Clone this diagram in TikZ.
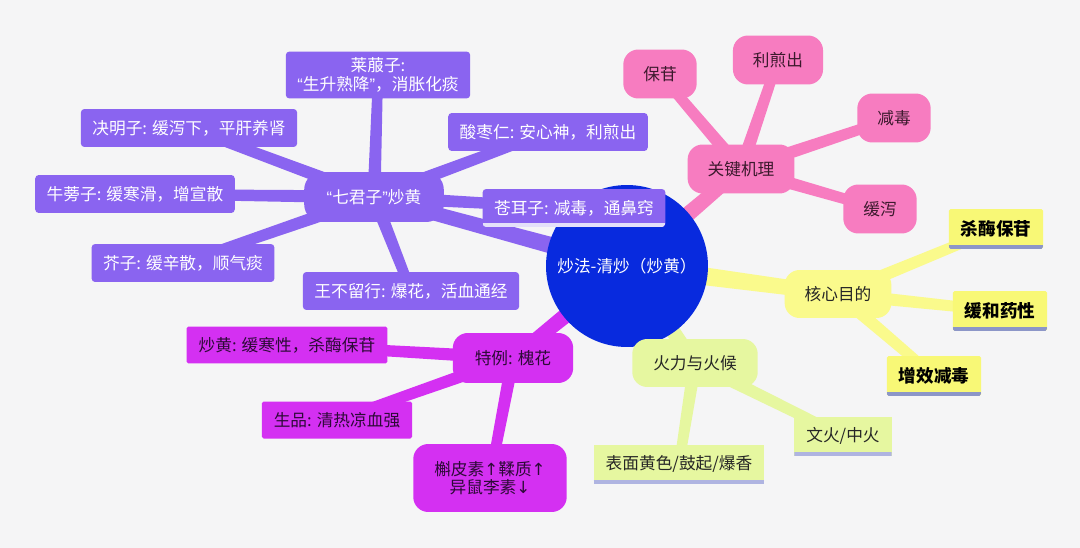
\documentclass[tikz,border=0pt]{standalone}
\usepackage{fontspec}
\setmainfont{Noto Sans CJK SC}
\newfontfamily\quotefont{Liberation Sans}
\newfontfamily\arrowfont{DejaVu Sans}
\usepackage{xcolor}
\usepackage{tikz}
\usetikzlibrary{calc, backgrounds}
\definecolor{bgc}{RGB}{245,245,246}
\definecolor{rootblue}{RGB}{8,42,222}
\definecolor{purp}{RGB}{138,100,240}
\definecolor{pinkc}{RGB}{247,124,192}
\definecolor{pinktxt}{RGB}{60,25,45}
\definecolor{yelhub}{RGB}{250,250,140}
\definecolor{yel}{RGB}{248,248,118}
\definecolor{ylineblue}{RGB}{140,150,200}
\definecolor{lime}{RGB}{230,247,160}
\definecolor{glineblue}{RGB}{175,180,225}
\definecolor{lavline}{RGB}{228,224,250}
\definecolor{mag}{RGB}{212,48,242}
\definecolor{magtxt}{RGB}{45,10,55}
\newcommand{\oquote}{{\quotefont “}}
\newcommand{\cquote}{{\quotefont ”}}
\newcommand{\arrup}{{\arrowfont ↑}}
\newcommand{\arrdown}{{\arrowfont ↓}}
\tikzset{uline/.style={path picture={\draw[line width=4pt,#1] (path picture bounding box.south west) -- (path picture bounding box.south east);}}}
\tikzstyle{root}   = [circle, fill=rootblue, text=white, minimum size=3.24cm, inner sep=0pt]
\tikzstyle{phub}   = [rectangle, rounded corners=0.35cm, fill=purp, text=white, minimum height=1cm, inner xsep=0.45cm]
\tikzstyle{pchild} = [rectangle, rounded corners=2pt, fill=purp, text=white, minimum height=0.76cm, inner xsep=0.23cm, align=center]
\tikzstyle{pinkbox}= [rectangle, rounded corners=0.3cm, fill=pinkc, text=pinktxt, minimum height=0.98cm, inner xsep=0.4cm]
\tikzstyle{yhub}   = [rectangle, rounded corners=0.3cm, fill=yelhub, text=black!85, minimum height=0.96cm, inner xsep=0.4cm]
\tikzstyle{ychild} = [rectangle, rounded corners=1pt, fill=yel, font=\bfseries, minimum height=0.8cm, inner xsep=0.24cm, uline=ylineblue]
\tikzstyle{ghub}   = [rectangle, rounded corners=0.3cm, fill=lime, text=black!85, minimum height=0.96cm, inner xsep=0.42cm]
\tikzstyle{gchild} = [rectangle, fill=lime, text=black!85, minimum height=0.78cm, inner xsep=0.24cm, uline=glineblue]
\tikzstyle{mhub}   = [rectangle, rounded corners=0.3cm, fill=mag, text=magtxt, minimum height=1cm, inner xsep=0.44cm, align=center]
\tikzstyle{mchild} = [rectangle, rounded corners=1pt, fill=mag, text=magtxt, minimum height=0.74cm, inner xsep=0.24cm]
% tapered branch: colour, from, to, half width at start, half width at end
\newcommand{\branch}[5]{\fill[#1] ($(#2)!#4!90:(#3)$) -- ($(#3)!#5!-90:(#2)$) -- ($(#3)!#5!90:(#2)$) -- ($(#2)!#4!-90:(#3)$) -- cycle;}

\begin{document}
\begin{tikzpicture}[x=0.02cm, y=-0.02cm, font=\fontsize{9.5}{11}\selectfont]
\node (center) [root] at (627,266) {炒法-清炒（炒黄）};

% purple branch
\node (seven) [phub] at (374,197) {\oquote 七君子\cquote 炒黄};
\node (laifu) [pchild] at (378,75) {莱菔子:\\\oquote 生升熟降\cquote ，消胀化痰};
\node (jueming) [pchild] at (189,128) {决明子: 缓泻下，平肝养肾};
\node (suanzao) [pchild] at (548,132) {酸枣仁: 安心神，利煎出};
\node (niubang) [pchild] at (135,194) {牛蒡子: 缓寒滑，增宣散};
\node (canger) [pchild, uline=lavline] at (574,208) {苍耳子: 减毒，通鼻窍};
\node (jiezi) [pchild] at (183,263) {芥子: 缓辛散，顺气痰};
\node (wangbu) [pchild] at (411,291) {王不留行: 爆花，活血通经};

% pink branch
\node (mech) [pinkbox] at (741,169) {关键机理};
\node (baogan) [pinkbox] at (660,74) {保苷};
\node (lijian) [pinkbox] at (778,60) {利煎出};
\node (jiandu) [pinkbox] at (894,118) {减毒};
\node (huanxie) [pinkbox] at (880,209) {缓泻};

% yellow branch
\node (goal) [yhub] at (838,294) {核心目的};
\node (shamei) [ychild] at (996,229) {杀酶保苷};
\node (huanhe) [ychild] at (1000,311) {缓和药性};
\node (zengxiao) [ychild] at (934,376) {增效减毒};

% green branch
\node (fire) [ghub] at (695,363) {火力与火候};
\node (wenhuo) [gchild] at (843,436) {文火/中火};
\node (surface) [gchild] at (679,464) {表面黄色/鼓起/爆香};

% magenta branch
\node (huai) [mhub] at (513,358) {特例: 槐花};
\node (chaohuang) [mchild] at (287,345) {炒黄: 缓寒性，杀酶保苷};
\node (shengpin) [mchild] at (337,420) {生品: 清热凉血强};
\node (flav) [mhub, minimum height=1.36cm, inner xsep=0.42cm, font=\fontsize{9.5}{10}\selectfont] at (490,478) {槲皮素\arrup 鞣质\arrup\\异鼠李素\arrdown};

\begin{scope}[on background layer]
\fill[bgc] (0,0) rectangle (1080,548);
\branch{purp}{center}{seven}{0.18cm}{0.13cm}
\branch{pinkc}{center}{mech}{0.18cm}{0.13cm}
\branch{yelhub}{center}{goal}{0.2cm}{0.14cm}
\branch{lime}{center}{fire}{0.18cm}{0.13cm}
\branch{mag}{center}{huai}{0.18cm}{0.13cm}
\foreach \n in {laifu, jueming, suanzao, niubang, canger, jiezi, wangbu}
  {\branch{purp}{seven}{\n}{0.13cm}{0.1cm}}
\foreach \n in {baogan, lijian, jiandu, huanxie}
  {\branch{pinkc}{mech}{\n}{0.13cm}{0.1cm}}
\foreach \n in {shamei, huanhe, zengxiao}
  {\branch{yelhub}{goal}{\n}{0.13cm}{0.1cm}}
\foreach \n in {wenhuo, surface}
  {\branch{lime}{fire}{\n}{0.13cm}{0.1cm}}
\foreach \n in {chaohuang, shengpin, flav}
  {\branch{mag}{huai}{\n}{0.13cm}{0.1cm}}
\end{scope}
\end{tikzpicture}
\end{document}
